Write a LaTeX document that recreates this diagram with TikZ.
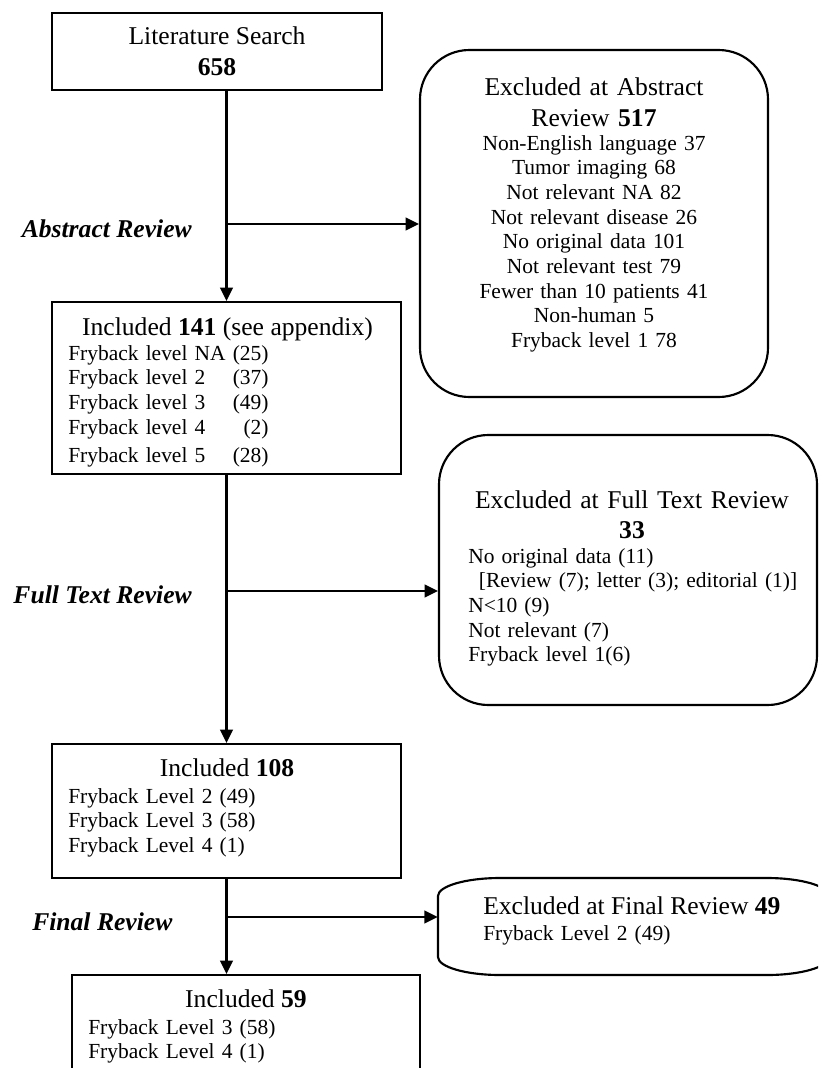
\documentclass[tikz,border=0pt]{standalone}
\usepackage{fontspec}
\setmainfont{Liberation Serif}
\usetikzlibrary{arrows.meta}

\newdimen\pix \pix=0.75pt
\newcommand\headsize{\fontsize{19.2}{23}\selectfont}
\newcommand\listsize{\fontsize{16.1}{18.5}\selectfont}

\tikzstyle{stage}=[draw, line width=1.6pt, inner sep=0pt]
\tikzstyle{excl}=[stage, rounded corners=37pt]
\tikzstyle{head}=[font=\headsize, inner sep=0pt, anchor=base, align=center]
\tikzstyle{list}=[font=\listsize, inner sep=0pt, anchor=base west, align=left, text width=320\pix]
\tikzstyle{phase}=[font=\headsize\bfseries\itshape, inner sep=0pt]
\tikzstyle{flow}=[-{Triangle[length=10pt, width=9.5pt]}, line width=1.6pt]

\begin{document}
\begin{tikzpicture}[x=0.75pt, y=-0.75pt]
    \useasboundingbox (0,0) rectangle (818,1068);
    \clip (0,0) rectangle (818,1068);
    % boxes
    \node[stage, minimum width=330\pix, minimum height=77\pix, font=\headsize, align=center] (search) at (217,51.5) {Literature Search\\\textbf{658}};
    \node[excl, minimum width=348\pix, minimum height=347\pix] (exabs) at (594,223.5) {};
    \node[head, text width=340\pix] (exabshead) at (594,95.5) {Excluded at Abstract\\Review \textbf{517}};
    \node[list, anchor=base, align=center, text width=340\pix] (exabslist) at (594,150) {Non-English language 37\\Tumor imaging 68\\Not relevant NA 82\\Not relevant disease 26\\No original data 101\\Not relevant test 79\\Fewer than 10 patients 41\\Non-human 5\\Fryback level 1 78};
    \node[stage, minimum width=349\pix, minimum height=172\pix] (inc1) at (226.5,388) {};
    \node[head] (inc1head) at (227.5,335.5) {Included \textbf{141} (see appendix)};
    \node[list] (inc1list) at (68,360) {\begin{tabular}[t]{@{}l@{~}r@{}}
        Fryback level NA & (25)\\
        Fryback level 2 & (37)\\
        Fryback level 3 & (49)\\
        Fryback level 4 & (2)\\[2.5pt]
        Fryback level 5 & (28)
      \end{tabular}};
    \node[excl, minimum width=378\pix, minimum height=270\pix] (exfull) at (628,570) {};
    \node[head, text width=360\pix] (exfullhead) at (632,508) {Excluded at Full Text Review\\\textbf{33}};
    \node[list, text width=345\pix] (exfulllist) at (468,563) {No original data (11)\\\hspace*{8pt}[Review (7); letter (3); editorial (1)]\\N<10 (9)\\Not relevant (7)\\Fryback level 1(6)};
    \node[stage, minimum width=349\pix, minimum height=134\pix] (inc2) at (226.5,811) {};
    \node[head] (inc2head) at (227,776.5) {Included \textbf{108}};
    \node[list] (inc2list) at (68,803) {Fryback Level 2 (49)\\Fryback Level 3 (58)\\Fryback Level 4 (1)};
    \node[minimum width=391\pix, minimum height=97\pix] (exfin) at (633.5,926.5) {};
    \draw[line width=1.6pt] (500,878) -- (767,878) .. controls (801.2,878) and (829,886.1) .. (829,896) -- (829,957) .. controls (829,966.9) and (801.2,975) .. (767,975) -- (500,975) .. controls (465.8,975) and (438,966.9) .. (438,957) -- (438,896) .. controls (438,886.1) and (465.8,878) .. cycle;
    \node[head, anchor=base west] (exfinhead) at (483,914.5) {Excluded at Final Review \textbf{49}};
    \node[list] (exfinlist) at (483,940) {Fryback Level 2 (49)};
    \node[stage, minimum width=348\pix, minimum height=125\pix] (inc3) at (246,1037.5) {};
    \node[head] (inc3head) at (246,1007.5) {Included \textbf{59}};
    \node[list] (inc3list) at (88,1034) {Fryback Level 3 (58)\\Fryback Level 4 (1)};
    % review steps
    \node[phase, anchor=base east] (absphase) at (192,237) {Abstract Review};
    \node[phase, anchor=base east] (fullphase) at (192,603) {Full Text Review};
    \node[phase, anchor=base west] (finphase) at (32,930) {Final Review};
    \coordinate (absfork) at (226.5,224);
    \coordinate (fullfork) at (226.5,591);
    \coordinate (finfork) at (226.5,917);
    % arrows
    \draw[flow] (search.south -| inc1.north) -- (inc1.north);
    \draw[flow] (absfork) -- (absfork -| exabs.west);
    \draw[flow] (inc1.south) -- (inc2.north);
    \draw[flow] (fullfork) -- (fullfork -| exfull.west);
    \draw[flow] (inc2.south) -- (inc2.south |- inc3.north);
    \draw[flow] (finfork) -- (finfork -| exfin.west);
\end{tikzpicture}
\end{document}
